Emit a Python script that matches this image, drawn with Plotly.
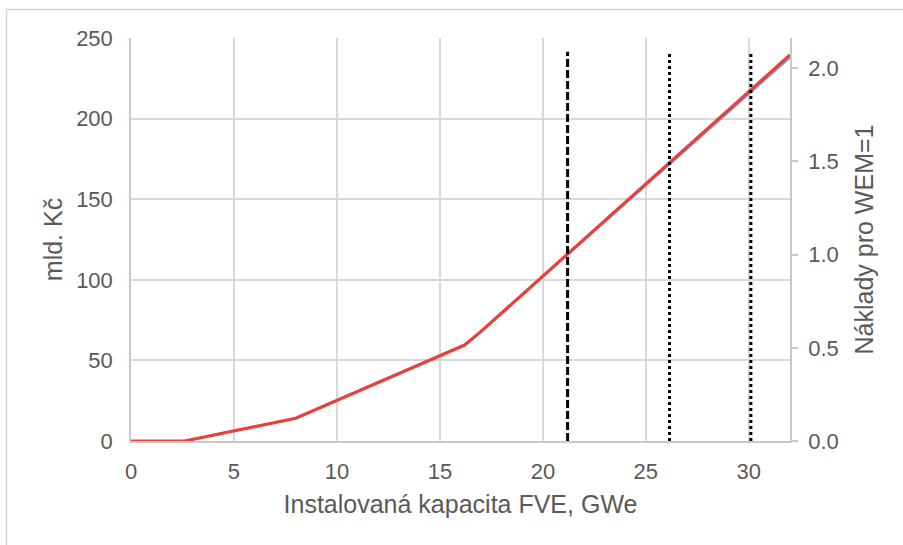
import plotly.graph_objects as go

# ---- data ----
capacity_gwe = [0, 2.6, 8, 15, 15.6, 16.2, 17, 32]
cost_bn_czk = [0, 0, 14.1, 53.3, 56.3, 59.5, 68.0, 239.5]          # left axis (mld. Kč)
cost_relative = [0, 0, 0.122, 0.461, 0.487, 0.515, 0.588, 2.058]     # right axis (WEM=1)

marker_x = [21.2, 26.15, 30.1]
marker_style = ["dash", "dot", "dot"]
marker_top = 241.5

x_ticks = [0, 5, 10, 15, 20, 25, 30]
left_ticks = [0, 50, 100, 150, 200, 250]
right_ticks = [0.0, 0.5, 1.0, 1.5, 2.0]
right_tick_labels = ["0.0", "0.5", "1.0", "1.5", "2.0"]

W, H = 903, 545
ML, MR, MT, MB = 131, 113, 38, 104
PW, PH = W - ML - MR, H - MT - MB

FONT = "Liberation Sans, Arial, sans-serif"
TXT = "#595959"
GRID = "#d9d9d9"

fig = go.Figure()

# blue series on the (primary) right-hand axis, drawn first
fig.add_trace(go.Scatter(x=capacity_gwe, y=cost_relative, yaxis="y", mode="lines",
                         line=dict(color="#6f9ef0", width=2.2), showlegend=False,
                         hoverinfo="skip"))
# red series on the overlaying left-hand axis, drawn above
fig.add_trace(go.Scatter(x=capacity_gwe, y=cost_bn_czk, yaxis="y2", mode="lines",
                         line=dict(color="#e8413a", width=3.2), showlegend=False))

dash_map = {"dash": "8px,3px", "dot": "3px,3px"}
for xv, st in zip(marker_x, marker_style):
    fig.add_trace(go.Scatter(x=[xv, xv], y=[0, marker_top], yaxis="y2", mode="lines",
                             line=dict(color="black", width=3, dash=dash_map[st]),
                             showlegend=False, hoverinfo="skip"))

def px_to_paper_x(px):
    return (px - ML) / PW

def px_to_paper_y(py):
    return (H - MB - py) / PH

# outer chart frame (top + left edges visible)
fig.add_shape(type="line", xref="paper", yref="paper",
              x0=px_to_paper_x(6.5), x1=px_to_paper_x(905), y0=px_to_paper_y(9.5), y1=px_to_paper_y(9.5),
              line=dict(color="#d4d4d4", width=1.5))
fig.add_shape(type="line", xref="paper", yref="paper",
              x0=px_to_paper_x(6.5), x1=px_to_paper_x(6.5), y0=px_to_paper_y(9.5), y1=px_to_paper_y(548),
              line=dict(color="#d4d4d4", width=1.5))

fig.update_layout(
    width=W, height=H,
    margin=dict(l=ML, r=MR, t=MT, b=MB, autoexpand=False),
    paper_bgcolor="white", plot_bgcolor="white",
    font=dict(family=FONT, color=TXT, size=22),
    xaxis=dict(range=[0, 32], tickvals=x_ticks, showgrid=True, gridcolor=GRID, gridwidth=1.5,
               zeroline=False, showline=True, linecolor="#c8c8c8", linewidth=1.5,
               ticks="", ticklabelstandoff=10,
               tickfont=dict(size=22, color=TXT),
               title=dict(text="Instalovaná kapacita FVE, GWe", font=dict(size=25, color=TXT), standoff=12)),
    yaxis=dict(range=[0, 250 / 115.6], side="right", anchor="x",
               tickvals=right_ticks, ticktext=right_tick_labels, showgrid=False, zeroline=False,
               showline=True, linecolor="#c8c8c8", linewidth=1.5,
               ticks="outside", ticklen=6, tickcolor="#c8c8c8", tickwidth=1.5,
               ticklabelstandoff=6,
               tickfont=dict(size=22, color=TXT),
               title=dict(text="Náklady pro WEM=1", font=dict(size=25, color=TXT), standoff=18)),
    yaxis2=dict(range=[0, 250], overlaying="y", side="left", anchor="x",
                tickvals=left_ticks, showgrid=True, gridcolor=GRID, gridwidth=1.5,
                zeroline=False, showline=True, linecolor="#c8c8c8", linewidth=1.5,
                ticks="", ticklabelstandoff=12,
                tickfont=dict(size=22, color=TXT),
                title=dict(text="mld. Kč", font=dict(size=25, color=TXT), standoff=6)),
)

fig.write_html("out.html", config={"displayModeBar": False},
               post_script="document.body.style.margin='0';")
